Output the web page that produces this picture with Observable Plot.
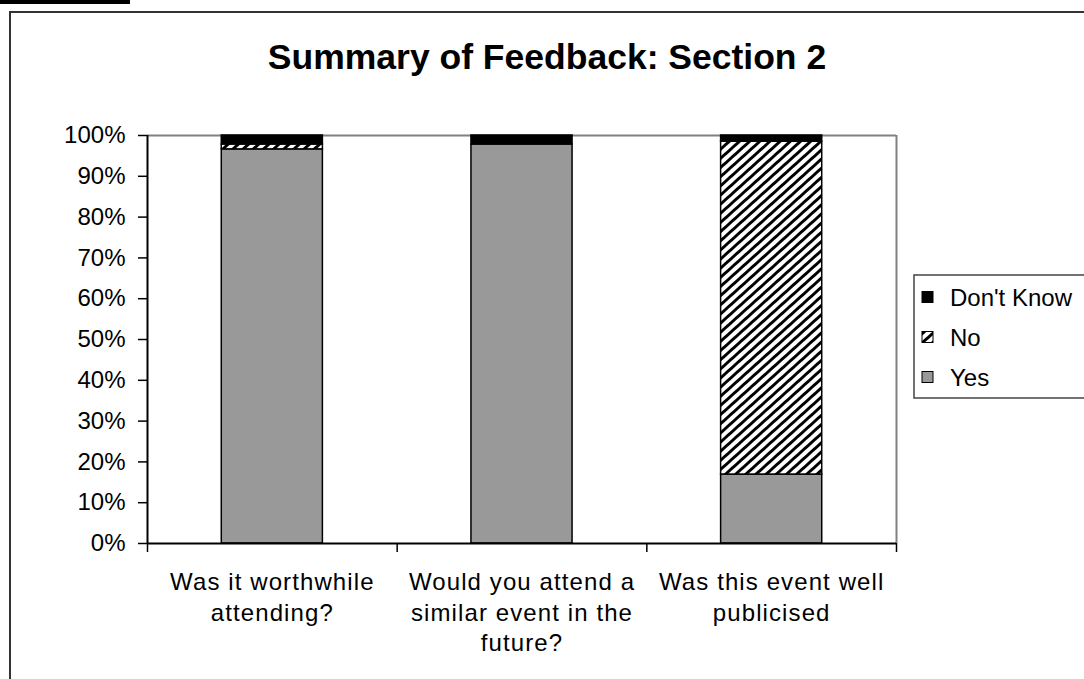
<!DOCTYPE html>
<html>
<head>
<meta charset="utf-8">
<script src="https://cdn.jsdelivr.net/npm/d3@7"></script>
<script src="https://cdn.jsdelivr.net/npm/@observablehq/plot@0.6"></script>
<style>
  html, body { margin: 0; padding: 0; background: #fff; }
  #wrap { position: relative; width: 1084px; height: 679px; overflow: hidden; font-family: "Liberation Sans", Arial, sans-serif; }
  #wrap > svg.plot { position: absolute; left: 0; top: 0; }
  #frame { position: absolute; left: 9px; top: 11px; width: 1200px; height: 800px; border-left: 2px solid #333; border-top: 2px solid #333; }
  #blackbar { position: absolute; left: 0; top: 0; width: 130px; height: 4px; background: #000; }
  #title { position: absolute; left: 0; width: 1094px; top: 37px; text-align: center; font-weight: bold; font-size: 35.5px; color: #000; white-space: nowrap; }
  #legend { position: absolute; left: 0; top: 0; }
  .xlab text { letter-spacing: 1.1px; }
</style>
</head>
<body>
<svg width="0" height="0" style="position:absolute">
  <defs>
    <pattern id="hatch" patternUnits="userSpaceOnUse" width="6.8" height="6.8" patternTransform="rotate(48)">
      <rect width="6.8" height="6.8" fill="#fff"></rect>
      <rect width="2.9" height="6.8" fill="#000"></rect>
    </pattern>
  </defs>
</svg>
<div id="wrap">
  <div id="blackbar"></div>
  <div id="frame"></div>
  <div id="title">Summary of Feedback: Section 2</div>
</div>
<script>
// ---- data ----
const categories = ["Was it worthwhile\nattending?", "Would you attend a\nsimilar event in the\nfuture?", "Was this event well\npublicised"];
const seriesNames = ["Yes", "No", "Don't Know"];
const yesValues = [0.966, 0.978, 0.169];
const noValues = [0.012, 0.0, 0.816];
const dontKnowValues = [0.022, 0.022, 0.015];
const yTicks = [0, 0.1, 0.2, 0.3, 0.4, 0.5, 0.6, 0.7, 0.8, 0.9, 1.0];
const legendOrder = ["Don't Know", "No", "Yes"];

const fills = {"Yes": "#999999", "No": "url(#hatch)", "Don't Know": "#000000"};
const seriesValues = [yesValues, noValues, dontKnowValues];

// stacked rows
const rows = [];
categories.forEach((c, i) => {
  let acc = 0;
  seriesNames.forEach((s, k) => {
    const v = seriesValues[k][i];
    rows.push({i, series: s, value: v, y1: acc, y2: acc + v});
    acc += v;
  });
});
const barRows = rows.filter(d => d.value > 0);

const barFrac = 0.405; // bar width as fraction of category width
const chart = Plot.plot({
  width: 1084,
  height: 679,
  marginLeft: 147,
  marginRight: 188,
  marginTop: 135,
  marginBottom: 136,
  style: {fontFamily: "'Liberation Sans', Arial, sans-serif", fontSize: "24px", color: "#000", background: "transparent"},
  x: {type: "linear", domain: [0, categories.length]},
  y: {domain: [0, 1]},
  marks: [
    Plot.ruleY([1], {stroke: "#808080", strokeWidth: 2}),
    Plot.ruleX([categories.length], {stroke: "#808080", strokeWidth: 2}),
    Plot.rect(barRows, {
      x1: d => d.i + (1 - barFrac) / 2,
      x2: d => d.i + (1 + barFrac) / 2,
      y1: "y1", y2: "y2",
      fill: d => fills[d.series],
      stroke: "#000", strokeWidth: 1.5
    }),
    Plot.ruleX([0], {stroke: "#000", strokeWidth: 2}),
    Plot.ruleY([0], {stroke: "#000", strokeWidth: 2}),
    Plot.axisY({ticks: yTicks, tickFormat: d3.format(".0%"), tickSize: 9, tickPadding: 13, label: null, fontSize: 24, strokeWidth: 1.5}),
    Plot.axisX({ticks: d3.range(categories.length + 1), tickSize: 9, tickFormat: () => "", label: null, strokeWidth: 1.5}),
    Plot.text(categories, {x: (d, i) => i + 0.5, frameAnchor: "bottom", lineAnchor: "top", dy: 25, fontSize: 24, lineHeight: 1.27, fill: "#000", className: "xlab"})
  ]
});
chart.classList.add("plot");
document.getElementById("wrap").appendChild(chart);

// legend
const lg = d3.select("#wrap").append("svg").attr("id", "legend").attr("width", 1084).attr("height", 679);
lg.append("rect").attr("x", 914).attr("y", 275).attr("width", 200).attr("height", 123)
  .attr("fill", "#fff").attr("stroke", "#444").attr("stroke-width", 1.5);
legendOrder.forEach((s, k) => {
  const cy = 297 + k * 40;
  lg.append("rect").attr("x", 922).attr("y", cy - 5.5).attr("width", 11).attr("height", 11)
    .attr("fill", fills[s]).attr("stroke", "#000").attr("stroke-width", 1);
  lg.append("text").attr("x", 950).attr("y", cy).attr("dy", "0.36em")
    .attr("font-size", 24).attr("font-family", "'Liberation Sans', Arial, sans-serif").attr("fill", "#000").text(s);
});
</script>
</body>
</html>
